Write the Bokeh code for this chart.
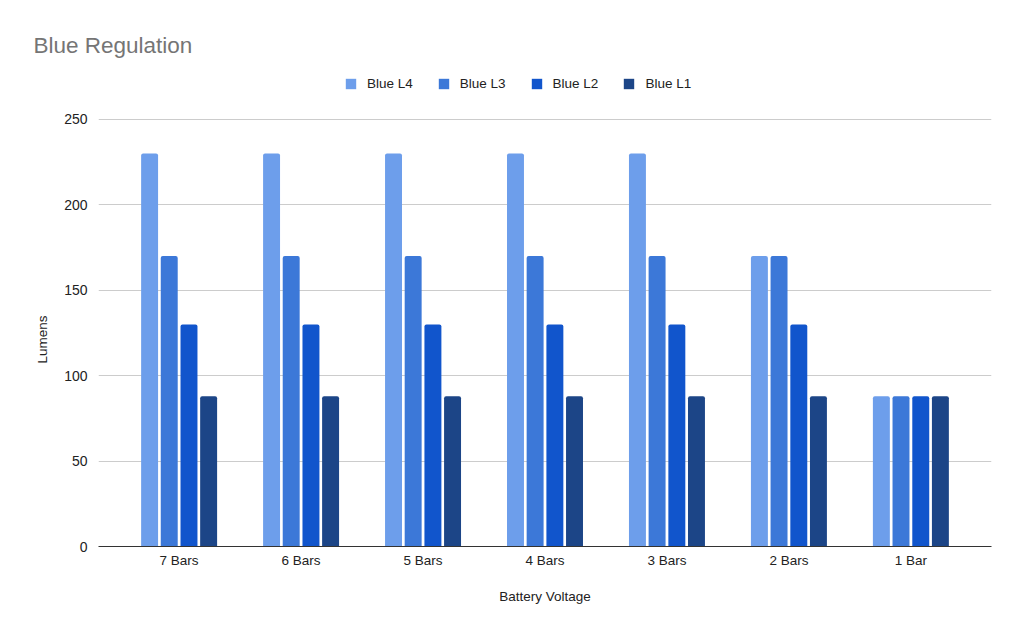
from bokeh.plotting import figure
from bokeh.models import ColumnDataSource, Legend, LegendItem, FactorRange, Title
from bokeh.transform import dodge
from bokeh.embed import file_html
from bokeh.resources import INLINE

categories = ["7 Bars", "6 Bars", "5 Bars", "4 Bars", "3 Bars", "2 Bars", "1 Bar"]
blue_l4 = [230, 230, 230, 230, 230, 170, 88]
blue_l3 = [170, 170, 170, 170, 170, 170, 88]
blue_l2 = [130, 130, 130, 130, 130, 130, 88]
blue_l1 = [88, 88, 88, 88, 88, 88, 88]
series_names = ["Blue L4", "Blue L3", "Blue L2", "Blue L1"]
colors = ["#6d9eeb", "#3c78d8", "#1155cc", "#1c4587"]
y_ticks = [0, 50, 100, 150, 200, 250]

source = ColumnDataSource(dict(cat=categories, l4=blue_l4, l3=blue_l3, l2=blue_l2, l1=blue_l1))

FONT = "Liberation Sans"

# frame spans 60..546 px; 250 sits at 119 px -> extra headroom for legend inside frame
p = figure(x_range=FactorRange(*categories, range_padding=0.046), y_range=(0, 284.5),
           width=1016, height=626, output_backend="svg", toolbar_location=None,
           min_border_left=98, min_border_right=25, min_border_top=60, min_border_bottom=80)

p.title.text = "Blue Regulation"
p.title.text_font = FONT
p.title.text_font_size = "22.5px"
p.title.text_font_style = "normal"
p.title.text_color = "#757575"
p.title.offset = -65
p.title.standoff = 6

offsets = [-0.242, -0.081, 0.081, 0.242]
fields = ["l4", "l3", "l2", "l1"]
items = []
for f, off, c, name in zip(fields, offsets, colors, series_names):
    r = p.vbar(x=dodge("cat", off, range=p.x_range), top=f, width=0.139, source=source,
               fill_color=c, line_color=None, border_radius=(2, 2, 0, 0))
    items.append(LegendItem(label=name, renderers=[r]))

legend = Legend(items=items, orientation="horizontal", location=(246, 455),
                label_text_font=FONT, label_text_font_size="13.5px", label_text_color="#222222",
                glyph_width=13, glyph_height=13, spacing=24, label_standoff=10,
                border_line_color=None, background_fill_alpha=0, margin=0, padding=0)
p.add_layout(legend, "center")

p.xgrid.grid_line_color = None
p.ygrid.grid_line_color = "#cccccc"
p.ygrid.ticker = y_ticks
p.yaxis.ticker = y_ticks

p.yaxis.axis_line_color = None
p.yaxis.major_tick_line_color = None
p.yaxis.minor_tick_line_color = None
p.yaxis.major_label_text_font = FONT
p.yaxis.major_label_text_font_size = "14px"
p.yaxis.major_label_text_color = "#222222"
p.yaxis.major_label_standoff = 5

ytitle = Title(text="Lumens", text_font=FONT, text_font_size="13.5px", text_font_style="normal",
               text_color="#222222", align="left", offset=183, standoff=23)
p.add_layout(ytitle, "left")

p.xaxis.axis_line_color = "#333333"
p.xaxis.major_tick_line_color = None
p.xaxis.minor_tick_line_color = None
p.xaxis.major_label_text_font = FONT
p.xaxis.major_label_text_font_size = "13.5px"
p.xaxis.major_label_text_color = "#222222"
p.xaxis.major_label_standoff = 0
p.xaxis.axis_label = "Battery Voltage"
p.xaxis.axis_label_text_font = FONT
p.xaxis.axis_label_text_font_size = "13.5px"
p.xaxis.axis_label_text_font_style = "normal"
p.xaxis.axis_label_text_color = "#222222"
p.xaxis.axis_label_standoff = 18

p.outline_line_color = None

open("out.html", "w").write(file_html(p, INLINE))
